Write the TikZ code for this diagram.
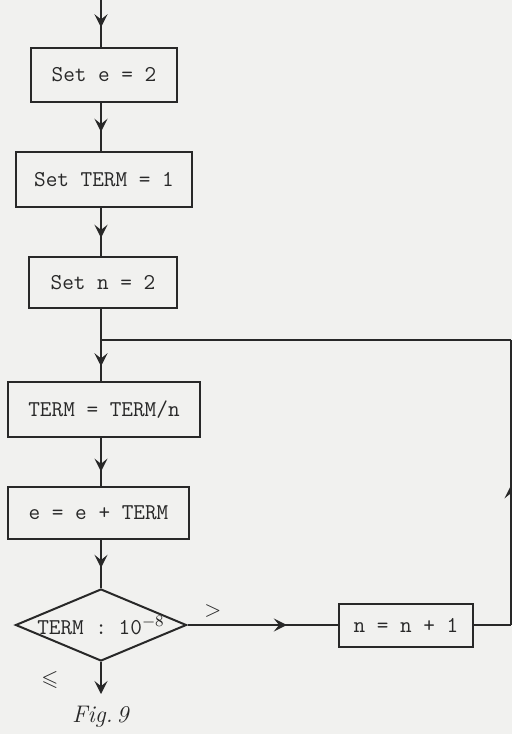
\documentclass[tikz,border=0pt]{standalone}
\usepackage{amssymb}
\usetikzlibrary{arrows.meta,shapes.geometric,decorations.markings}
\definecolor{paper}{RGB}{241,241,239}
\definecolor{ink}{RGB}{40,40,40}

\begin{document}
\begin{tikzpicture}[x=0.5pt,y=-0.5pt]
    \tikzset{typed/.style={text=ink, font=\ttfamily\fontsize{11.3}{13}\selectfont},
        box/.style={typed, draw=ink, line width=1pt, inner sep=0pt},
        line/.style={draw=ink, line width=1pt},
        flowtip/.tip={Stealth[length=6.5pt,width=6.5pt,inset=2.6pt]},
        flow/.style={line, postaction={decorate},
            decoration={markings, mark=at position #1 with {\arrow{flowtip}}}},
        flow/.default=0.6}

    % paper
    \fill[paper] (0,0) rectangle (512,734);
    \useasboundingbox (0,0) rectangle (512,734);

    % Boxes down the main line
    \coordinate (main) at (101,0);
    \node[box, minimum width=73pt, minimum height=27pt] (seteq) at (104,75) {Set e = 2};
    \node[box, minimum width=88pt, minimum height=27.5pt] (setterm) at (104,179.5) {Set TERM = 1};
    \node[box, minimum width=74pt, minimum height=25.5pt] (setn) at (103,282.5) {Set n = 2};
    \node[box, minimum width=96pt, minimum height=27.5pt] (divterm) at (104,409.5) {TERM = TERM/n};
    \node[box, minimum width=90.5pt, minimum height=26pt] (adde) at (98.5,513) {e = e + TERM};
    \node[box, diamond, minimum width=85.5pt, minimum height=36pt,
        label={[typed]center:{TERM : 10$^{-8}$}}] (test) at (101,625) {};
    \node[box, minimum width=67pt, minimum height=21.5pt] (incn) at (406,625) {n = n + 1};

    % Loop corners and the exit
    \coordinate (join) at (101,340);
    \coordinate (loopr) at (511,340);
    \coordinate (stop) at (101,694);

    % Connectors
    \draw[flow=0.58] (main) -- (seteq.north -| main);
    \draw[flow] (seteq.south -| main) -- (setterm.north -| main);
    \draw[flow=0.62] (setterm.south -| main) -- (setn.north -| main);
    \draw[line] (setn.south -| main) -- (join);
    \draw[flow=0.64] (join) -- (divterm.north -| main);
    \draw[flow=0.7] (divterm.south -| main) -- (adde.north -| main);
    \draw[flow=0.58] (adde.south -| main) -- (test.north);
    \draw[line, -flowtip] (test.south) -- (stop);
    \draw[flow=0.66] (test.east) -- (incn.west);
    \draw[line] (incn.east) -- (incn.east -| loopr);
    \draw[flow=0.49] (incn.east -| loopr) -- (loopr);
    \draw[line] (loopr) -- (join);

    % Labels
    \node[text=ink, font=\fontsize{11}{13}\selectfont] (gt) at (213,611) {$>$};
    \node[text=ink, font=\fontsize{11}{13}\selectfont] (le) at (50,680) {$\leqslant$};
    \node[text=ink, font=\fontsize{12}{14}\selectfont] (caption) at (101,717) {\textit{Fig.\,9}};
\end{tikzpicture}
\end{document}
